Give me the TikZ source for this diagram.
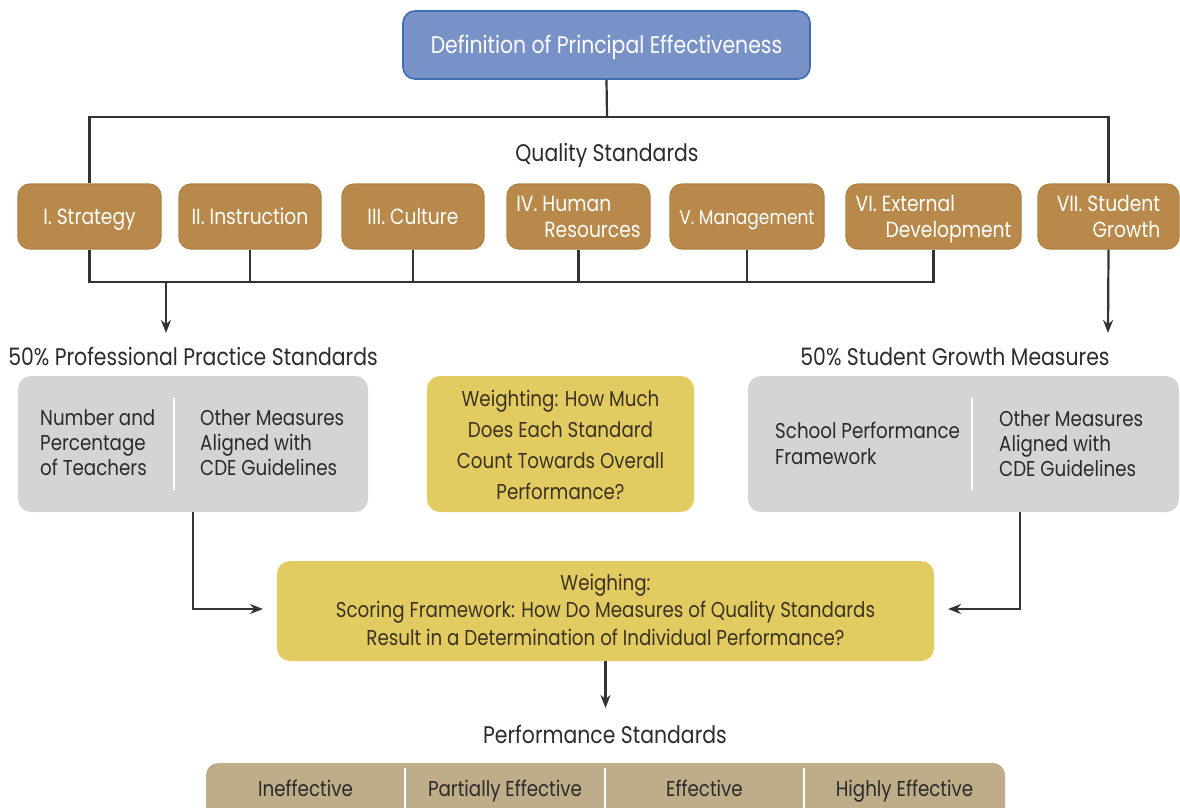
\documentclass[tikz,border=0pt]{standalone}
\usepackage{fontspec}
\setmainfont{Poppins}[FakeStretch=0.85]
\usetikzlibrary{arrows.meta}
\definecolor{defblue}{HTML}{7892C7}
\definecolor{defedge}{HTML}{3F6DB4}
\definecolor{stdfill}{HTML}{B8894A}
\definecolor{stdedge}{HTML}{B08040}
\definecolor{grayfill}{HTML}{D4D4D6}
\definecolor{yelfill}{HTML}{E2CC62}
\definecolor{barfill}{HTML}{BFAD89}
\definecolor{ink}{HTML}{2B2B2B}
\definecolor{yink}{HTML}{3A3222}
\definecolor{linec}{HTML}{333333}
\tikzset{
  txt/.style={font=\fontsize{21.5}{25}\selectfont, text=ink, inner sep=0pt},
  head/.style={txt, font=\fontsize{24}{28}\selectfont, anchor=base},
  defbox/.style={draw=defedge, line width=1.6pt, fill=defblue, rounded corners=12pt,
    minimum width=407pt, minimum height=68pt},
  stdbox/.style={draw=stdedge, line width=1.2pt, fill=stdfill, rounded corners=12pt,
    minimum height=65pt, inner sep=0pt},
  stdtxt/.style={text=white, font=\fontsize{22}{26}\selectfont, inner sep=0pt},
  graybox/.style={fill=grayfill, rounded corners=13pt, minimum height=136pt, inner sep=0pt},
  yelbox/.style={fill=yelfill, rounded corners=13pt, inner sep=0pt},
  divider/.style={draw=white, line width=1.2pt},
  conn/.style={draw=linec, line width=2.2pt},
  arr/.style={conn, -{Stealth[length=13pt,width=10pt]}},
}
\begin{document}
\begin{tikzpicture}[x=1pt,y=-1pt]
\useasboundingbox (0,0) rectangle (1180,808);
% top
\node[defbox] (def) at (606.5,45) {};
\node[stdtxt, font=\fontsize{24}{28}\selectfont, anchor=base] (deft) at (606.5,54) {Definition of Principal Effectiveness};
\node[head] (qs) at (607,161) {Quality Standards};
% standards
\node[stdbox, minimum width=143pt] (s1) at (89.5,216.5) {};
\node[stdbox, minimum width=142pt] (s2) at (250,216.5) {};
\node[stdbox, minimum width=142pt] (s3) at (413,216.5) {};
\node[stdbox, minimum width=143pt] (s4) at (578.5,216.5) {};
\node[stdbox, minimum width=154pt] (s5) at (747,216.5) {};
\node[stdbox, minimum width=175pt] (s6) at (933.5,216.5) {};
\node[stdbox, minimum width=141pt] (s7) at (1108.5,216.5) {};
\node[stdtxt, anchor=base] (s1t) at (89.5,224) {I. Strategy};
\node[stdtxt, anchor=base] (s2t) at (250,224) {II. Instruction};
\node[stdtxt, anchor=base] (s3t) at (413,224) {III. Culture};
\node[stdtxt, align=left] (s4t) at (578.5,218.8) {\strut IV. Human\\\strut\hspace*{28pt}Resources};
\node[stdtxt, anchor=base, font=\fontsize{20}{26}\selectfont] (s5t) at (747,224) {V. Management};
\node[stdtxt, align=left] (s6t) at (933.5,218.8) {\strut VI. External\\\strut\hspace*{30pt}Development};
\node[stdtxt, align=right] (s7t) at (1108.5,218.8) {\strut VII. Student\\\strut Growth};
% bus lines
\coordinate (bus1) at (607,117);
\coordinate (bus2) at (500,282);
\draw[conn] (def.south) -- (bus1);
\draw[conn] (s1.north) |- (bus1) -| (s7.north);
\draw[conn] (s1.south) |- (bus2) -| (s6.south);
\foreach \s in {s2,s3,s4,s5} \draw[conn] (\s.south) -- (\s.south |- bus2);
% headings
\node[head] (pph) at (193,365) {50\% Professional Practice Standards};
\node[head] (sgh) at (955,365) {50\% Student Growth Measures};
\coordinate (a1) at (166,282);
\coordinate (a1e) at (166,333);
\draw[arr] (a1) -- (a1e);
\coordinate (a2e) at (1108,333);
\draw[arr] (s7.south) -- (a2e);
% gray boxes
\node[graybox, minimum width=350pt] (g1) at (193,444) {};
\draw[divider] (174,398) -- (174,490);
\node[txt, anchor=west, align=left] (g1a) at (40,445) {\strut Number and\\\strut Percentage\\\strut of Teachers};
\node[txt, anchor=west, align=left] (g1b) at (200,445) {\strut Other Measures\\\strut Aligned with\\\strut CDE Guidelines};
\node[yelbox, minimum width=267pt, minimum height=136pt] (y1) at (560.5,444) {};
\node[txt, text=yink, align=center, font=\fontsize{21.5}{31}\selectfont] (y1t) at (560.5,446.3) {\strut Weighting: How Much\\\strut Does Each Standard\\\strut Count Towards Overall\\\strut Performance?};
\node[graybox, minimum width=431pt] (g2) at (963.5,444) {};
\draw[divider] (972,398) -- (972,490);
\node[txt, anchor=west, align=left, font=\fontsize{21.5}{26}\selectfont] (g2a) at (775,445.8) {\strut School Performance\\\strut Framework};
\node[txt, anchor=west, align=left] (g2b) at (999,446) {\strut Other Measures\\\strut Aligned with\\\strut CDE Guidelines};
% weighing box
\node[yelbox, minimum width=657pt, minimum height=100pt] (wb) at (605.5,611) {};
\node[txt, text=yink, align=center, font=\fontsize{21.5}{27.5}\selectfont] (wbt) at (605.5,612) {\strut Weighing:\\\strut Scoring Framework: How Do Measures of Quality Standards\\\strut Result in a Determination of Individual Performance?};
\coordinate (lin) at (263,609);
\coordinate (rin) at (948,609);
\draw[arr] (g1.south) |- (lin);
\coordinate (g2out) at (1020,512);
\draw[arr] (g2out) |- (rin);
\coordinate (wbe) at (605.5,708);
\draw[arr] (wb.south) -- (wbe);
% performance standards
\node[head] (ps) at (605,743) {Performance Standards};
\fill[barfill, rounded corners=12pt] (206,763) rectangle (1005,830);
\draw[divider] (405,768) -- (405,808);
\draw[divider] (605,768) -- (605,808);
\draw[divider] (804,768) -- (804,808);
\node[txt, anchor=base] (p1) at (305.5,796) {Ineffective};
\node[txt, anchor=base] (p2) at (505,796) {Partially Effective};
\node[txt, anchor=base] (p3) at (704.5,796) {Effective};
\node[txt, anchor=base] (p4) at (904.5,796) {Highly Effective};
\end{tikzpicture}
\end{document}
